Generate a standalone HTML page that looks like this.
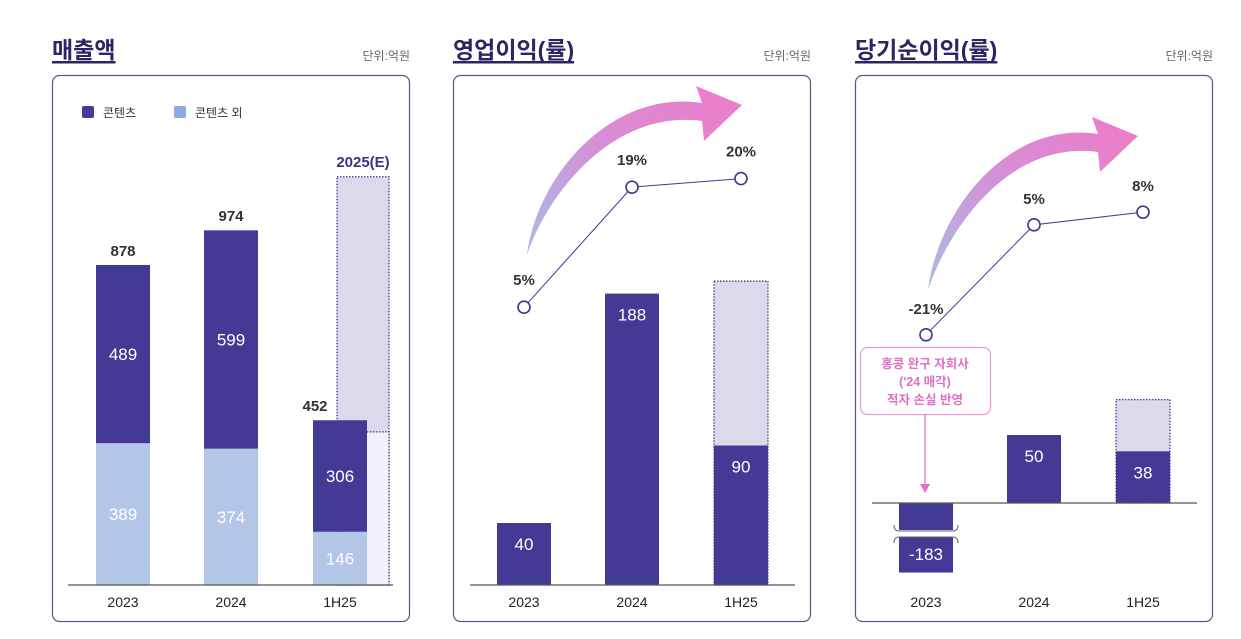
<!DOCTYPE html>
<html><head><meta charset="utf-8"><style>
body{margin:0;background:#fff;width:1241px;height:639px;overflow:hidden}
svg{display:block;font-family:"Liberation Sans","Noto Sans CJK KR",sans-serif}
</style></head><body>
<svg id="c" width="1241" height="639" viewBox="0 0 1241 639">
<defs>
<linearGradient id="ag" x1="0" y1="1" x2="1" y2="0"><stop offset="0" stop-color="#a9bde6"/><stop offset="0.5" stop-color="#d58fd6"/><stop offset="1" stop-color="#f07ac8"/></linearGradient>
</defs>
</svg>
<script>
const svg=document.getElementById('c');
const NS='http://www.w3.org/2000/svg';
function mk(tag,a,txt){const e=document.createElementNS(NS,tag);for(const k in a)e.setAttribute(k,a[k]);if(txt!==undefined)e.textContent=txt;svg.appendChild(e);return e;}
const DARK='#433a96',LIGHT='#b4c6e7',EST='#dbdaeb';

// data
const revYears=['2023','2024','1H25'];
const revContents=[489,599,306];
const revOther=[389,374,146];
const revTotal=[878,974,452];
const revEstimate=1120;
const opYears=['2023','2024','1H25'];
const opProfit=[40,188,90];
const opEstimate=196;
const opMargin=[5,19,20];
const opMarginLabels=['5%','19%','20%'];
const niYears=['2023','2024','1H25'];
const niProfit=[-183,50,38];
const niEstimate=76;
const niMargin=[-21,5,8];
const niMarginLabels=['-21%','5%','8%'];

function panel(x0,title,name){
  let t=mk('text',{x:x0,y:58,'font-size':23,'font-weight':'bold',fill:'#2b2565'},title);
  
  let w=t.getBBox().width;
  let u=mk('rect',{x:x0,y:61,width:w,height:2.5,fill:'#2b2565'});
  
  let un=mk('text',{x:x0+358,y:60,'text-anchor':'end','font-size':12,fill:'#666'},'단위:억원');
  
  let b=mk('rect',{x:x0+0.5,y:75.5,width:357,height:546,rx:7,fill:'#fff',stroke:'#5a5585','stroke-width':1.2});
  
}
function xlabel(x,txt,name){let e=mk('text',{x:x,y:607,'text-anchor':'middle','font-size':14,fill:'#222'},txt);}
function inLabel(x,y,txt,name){let e=mk('text',{x:x,y:y,'text-anchor':'middle','font-size':17,fill:'#fff'},txt);}
function arrow(x1,y1,x2,y2,name){
  const hx=x2-40,hy=y2+6;
  const d=`M${x1},${y1} C${x1+10},${y1-80} ${hx-90},${hy-22} ${hx},${hy-8} L${hx-6},${hy-25} L${x2},${y2} L${hx+2},${hy+30} L${hx},${hy+10} C${hx-90},${hy-2} ${x1+20},${y1-60} ${x1},${y1} Z`;
  let p=mk('path',{d:d,fill:'url(#ag)'});
}

// Panel 1 revenue
panel(52,'매출액','revenue');
{
  let l1=mk('rect',{x:82,y:106,width:12,height:12,rx:2,fill:DARK});
  let t1=mk('text',{x:103,y:117,'font-size':12,fill:'#333'},'콘텐츠');
  let l2=mk('rect',{x:174,y:106,width:12,height:12,rx:2,fill:'#8fa9dc'});
  let t2=mk('text',{x:195,y:117,'font-size':12,fill:'#333'},'콘텐츠 외');
  const base=585,k=0.3645,xs=[96,204,313],bw=54;
  const y=v=>base-v*k;
  let ex=337;
  let e1=mk('rect',{x:ex,y:y(revEstimate),width:52,height:base-y(revEstimate),fill:EST,stroke:DARK,'stroke-width':1.3,'stroke-dasharray':'1.5,1.5'});
  
  let e2=mk('rect',{x:ex,y:y(420),width:52,height:base-y(420),fill:'#f1f1f9',stroke:DARK,'stroke-width':1.3,'stroke-dasharray':'1.5,1.5'});
  
  let et=mk('text',{x:363,y:y(revEstimate)-10,'text-anchor':'middle','font-size':15,'font-weight':'bold',fill:'#3a3488'},'2025(E)');
  
  revYears.forEach((yr,i)=>{
    let o=mk('rect',{x:xs[i],y:y(revOther[i]),width:bw,height:revOther[i]*k,fill:LIGHT});
    
    let c=mk('rect',{x:xs[i],y:y(revOther[i]+revContents[i]),width:bw,height:revContents[i]*k,fill:DARK});
    
    inLabel(xs[i]+27,y(revOther[i]/2)+6,String(revOther[i]),'value-other-'+yr);
    inLabel(xs[i]+27,y(revOther[i]+revContents[i]/2)+6,String(revContents[i]),'value-contents-'+yr);
    let tt=mk('text',{x:i==2?xs[i]+2:xs[i]+27,y:y(revTotal[i])-9,'text-anchor':'middle','font-size':15,'font-weight':'bold',fill:'#333'},String(revTotal[i]));
    
    xlabel(xs[i]+27,yr,'x-label-'+yr);
  });
  let ax=mk('line',{x1:68,y1:base,x2:393,y2:base,stroke:'#555','stroke-width':1.2});
}

// Panel 2 operating profit
panel(453,'영업이익(률)','operating-profit');
{
  const base=585,k=1.55,xs=[497,605,714],bw=54;
  const y=v=>base-v*k;
  arrow(527,255,742,105,'operating-growth-arrow');
  let e=mk('rect',{x:xs[2],y:y(opEstimate),width:bw,height:opEstimate*k,fill:EST,stroke:DARK,'stroke-width':1.3,'stroke-dasharray':'1.5,1.5'});
  
  opYears.forEach((yr,i)=>{
    let r=mk('rect',{x:xs[i],y:y(opProfit[i]),width:bw,height:opProfit[i]*k,fill:DARK});
    
    inLabel(xs[i]+27,y(opProfit[i])+27,String(opProfit[i]),'value-op-'+yr);
    xlabel(xs[i]+27,yr,'x-label-op-'+yr);
  });
  const py=p=>350-p*8.57;
  let pts=opMargin.map((p,i)=>`${xs[i]+27},${py(p)}`).join(' ');
  let pl=mk('polyline',{points:pts,fill:'none',stroke:'#3d3790','stroke-width':1});
  opMargin.forEach((p,i)=>{
    let c=mk('circle',{cx:xs[i]+27,cy:py(p),r:6,fill:'#fff',stroke:'#3d3790','stroke-width':1.6});
    let t=mk('text',{x:xs[i]+27,y:py(p)-22,'text-anchor':'middle','font-size':15,'font-weight':'bold',fill:'#333'},opMarginLabels[i]);
  });
  let ax=mk('line',{x1:470,y1:base,x2:795,y2:base,stroke:'#555','stroke-width':1.2});
}

// Panel 3 net income
panel(855,'당기순이익(률)','net-income');
{
  const base=503,k=1.36,xs=[899,1007,1116],bw=54;
  const y=v=>base-v*k;
  arrow(928,290,1138,136,'net-growth-arrow');
  let e=mk('rect',{x:xs[2],y:y(niEstimate),width:bw,height:niEstimate*k,fill:EST,stroke:DARK,'stroke-width':1.3,'stroke-dasharray':'1.5,1.5'});
  
  niYears.forEach((yr,i)=>{
    const v=niProfit[i];
    if(v>=0){
      let r=mk('rect',{x:xs[i],y:y(v),width:bw,height:v*k,fill:DARK});
      inLabel(xs[i]+27,y(v)+27,String(v),'value-ni-'+yr);
    } else {
      // broken negative bar (scale break)
      const shown=Math.max(62,Math.min(80,-v*0.38));
      let r1=mk('rect',{x:xs[i],y:base,width:bw,height:27,fill:DARK});
      let r2=mk('rect',{x:xs[i],y:base+34,width:bw,height:shown-34,fill:DARK});
      let b1=mk('path',{d:`M${xs[i]-5},${base+22} q0,6 5,6 h54 q5,0 5,-6 M${xs[i]-5},${base+40} q0,-6 5,-6 h54 q5,0 5,6`,fill:'none',stroke:'#666','stroke-width':1});
      inLabel(xs[i]+27,base+57,String(v),'value-ni-'+yr);
    }
    xlabel(xs[i]+27,yr,'x-label-ni-'+yr);
  });
  const py=p=>246-p*4.23;
  let pts=niMargin.map((p,i)=>`${xs[i]+27},${py(p)}`).join(' ');
  let pl=mk('polyline',{points:pts,fill:'none',stroke:'#3d3790','stroke-width':1});
  niMargin.forEach((p,i)=>{
    let c=mk('circle',{cx:xs[i]+27,cy:py(p),r:6,fill:'#fff',stroke:'#3d3790','stroke-width':1.6});
    let t=mk('text',{x:xs[i]+27,y:py(p)-21,'text-anchor':'middle','font-size':15,'font-weight':'bold',fill:'#333'},niMarginLabels[i]);
  });
  let ax=mk('line',{x1:872,y1:base,x2:1197,y2:base,stroke:'#555','stroke-width':1.2});
  let ab=mk('rect',{x:860.5,y:347.5,width:130,height:67,rx:7,fill:'#fff',stroke:'#ec9ad6','stroke-width':1.2});
  ['홍콩 완구 자회사','(\'24 매각)','적자 손실 반영'].forEach((s,j)=>{
    let t=mk('text',{x:925,y:368+j*18,'text-anchor':'middle','font-size':12.5,'font-weight':'bold',fill:'#e070c4'},s);
  });
  let al=mk('line',{x1:925,y1:414,x2:925,y2:484,stroke:'#e070c4','stroke-width':1.2});
  let ah=mk('path',{d:'M920,484 L930,484 L925,493 Z',fill:'#e070c4'});
}
</script>
</body></html>
